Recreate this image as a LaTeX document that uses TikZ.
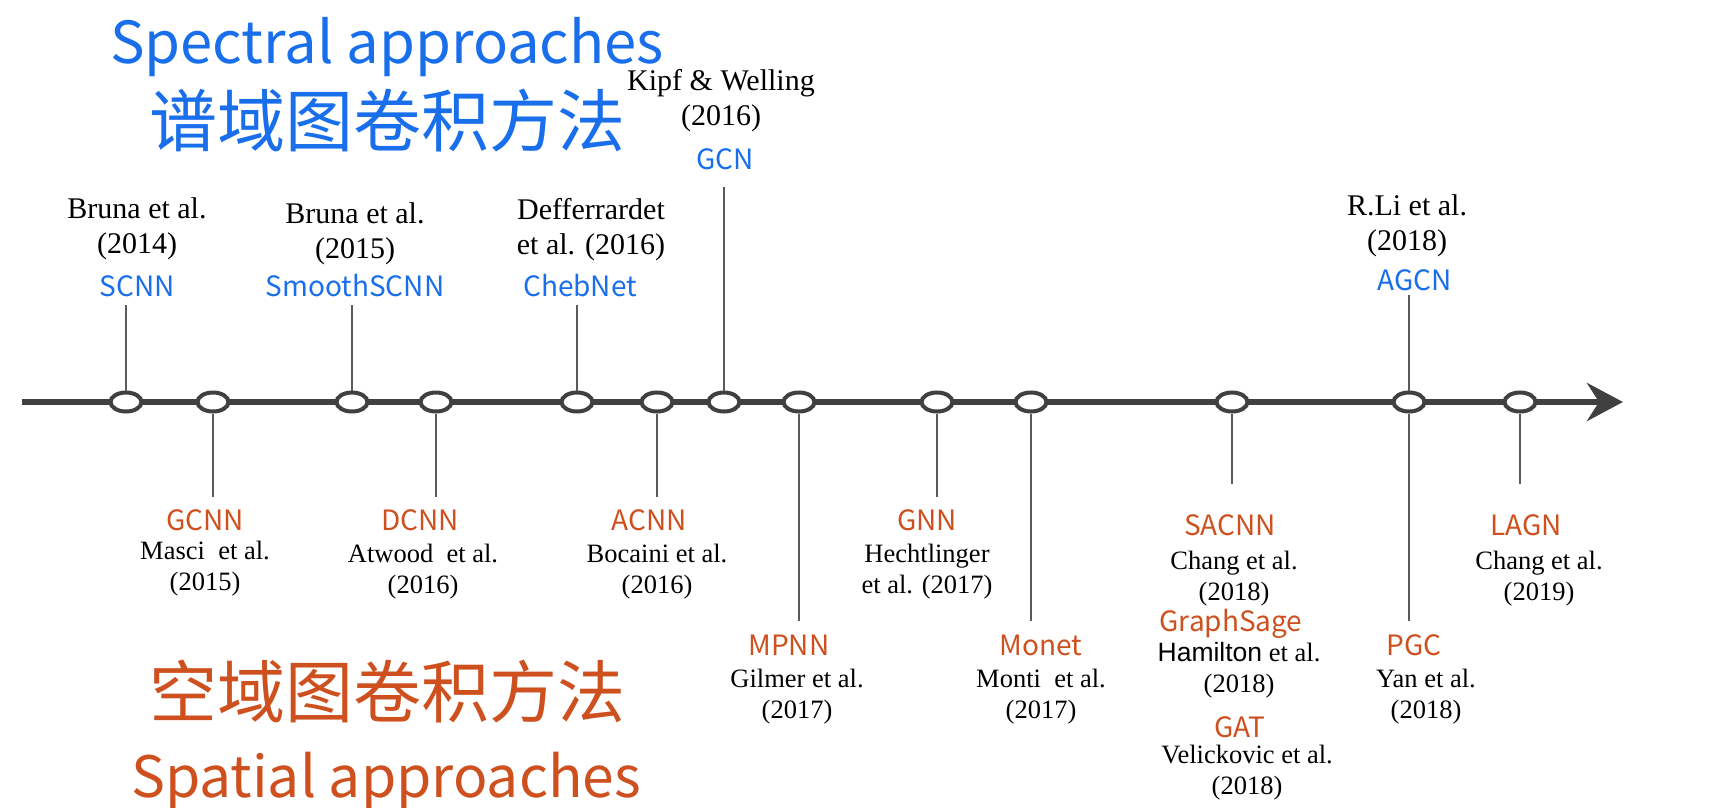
\documentclass[tikz,border=0pt]{standalone}
\usepackage{fontspec}
\setmainfont{Liberation Serif}
\newfontfamily\cjk{Noto Sans CJK SC}
\newfontfamily\arialfont{Liberation Sans}
\usetikzlibrary{arrows.meta,positioning,shapes.geometric}
\definecolor{specblue}{RGB}{25,110,235}
\definecolor{spatorange}{RGB}{205,80,30}
\definecolor{linegray}{RGB}{64,64,64}
\definecolor{stemgray}{RGB}{90,90,90}
\tikzset{
  dot/.style={ellipse,draw=linegray,fill=white,line width=4pt,minimum width=31pt,minimum height=19pt,inner sep=0pt},
  meth/.style={font=\cjk\fontsize{28}{33}\selectfont,inner sep=0pt},
  spec/.style={meth,text=specblue},
  spat/.style={meth,text=spatorange},
  upauth/.style={font=\fontsize{30}{35}\selectfont,align=center,inner sep=0pt},
  lowauth/.style={font=\fontsize{26.5}{31}\selectfont,align=center,inner sep=0pt},
  stem/.style={draw=stemgray,line width=2.5pt}
}

\begin{document}
\begin{tikzpicture}[x=1pt,y=-1pt]
  \useasboundingbox (0,0) rectangle (1723,807);

  % titles
  \node [font=\cjk\fontsize{58}{65}\selectfont,text=specblue] (spectitle) at (387,47) {Spectral approaches};
  \node [font=\cjk\fontsize{68}{75}\selectfont,text=specblue] (speccn) at (387,121) {谱域图卷积方法};
  \node [font=\cjk\fontsize{68}{75}\selectfont,text=spatorange] (spatcn) at (387,692) {空域图卷积方法};
  \node [font=\cjk\fontsize{57}{64}\selectfont,text=spatorange] (spattitle) at (386,781) {Spatial approaches};

  % time line
  \coordinate (tstart) at (22,402);
  \coordinate (tend) at (1623,402);
  \draw [line width=6pt,draw=linegray,-{Stealth[length=36pt,width=38pt,inset=12pt]}] (tstart) -- (tend);

  \node [dot] (pscnn) at (126,402) {};
  \node [dot] (pgcnn) at (213,402) {};
  \node [dot] (psmooth) at (352,402) {};
  \node [dot] (pdcnn) at (436,402) {};
  \node [dot] (pcheb) at (577,402) {};
  \node [dot] (pacnn) at (657,402) {};
  \node [dot] (pgcn) at (724,402) {};
  \node [dot] (pmpnn) at (799,402) {};
  \node [dot] (pgnn) at (937,402) {};
  \node [dot] (pmonet) at (1031,402) {};
  \node [dot] (psacnn) at (1232,402) {};
  \node [dot] (pagcn) at (1409,402) {};
  \node [dot] (plagn) at (1520,402) {};

  % stem ends
  \coordinate (sscnn) at (126,305);
  \coordinate (ssmooth) at (352,305);
  \coordinate (scheb) at (577,305);
  \coordinate (sgcn) at (724,187);
  \coordinate (sagcn) at (1409,295);
  \coordinate (sgcnn) at (213,497);
  \coordinate (sdcnn) at (436,497);
  \coordinate (sacnn) at (657,497);
  \coordinate (smpnn) at (799,621);
  \coordinate (sgnn) at (937,497);
  \coordinate (smonet) at (1031,621);
  \coordinate (ssacnn) at (1232,484);
  \coordinate (spgc) at (1409,621);
  \coordinate (slagn) at (1520,484);

  \path
  (pscnn) edge [stem] (sscnn)
  (psmooth) edge [stem] (ssmooth)
  (pcheb) edge [stem] (scheb)
  (pgcn) edge [stem] (sgcn)
  (pagcn) edge [stem] (sagcn)
  (pgcnn) edge [stem] (sgcnn)
  (pdcnn) edge [stem] (sdcnn)
  (pacnn) edge [stem] (sacnn)
  (pmpnn) edge [stem] (smpnn)
  (pgnn) edge [stem] (sgnn)
  (pmonet) edge [stem] (smonet)
  (psacnn) edge [stem] (ssacnn)
  (pagcn) edge [stem] (spgc)
  (plagn) edge [stem] (slagn)
  ;

  % spectral methods
  \node [spec] (scnn) at (137,286) {SCNN};
  \node [upauth,above=15pt of scnn] (bruna14) {Bruna et al.\\(2014)};
  \node [spec] (smooth) at (355,286) {SmoothSCNN};
  \node [upauth,above=9pt of smooth] (bruna15) {Bruna et al.\\(2015)};
  \node [spec] (cheb) at (580,286) {ChebNet};
  \node [upauth,above=13pt of cheb,xshift=11pt] (deff) {Defferrardet\\et al. (2016)};
  \node [spec] (gcn) at (725,159) {GCN};
  \node [upauth,above=16pt of gcn,xshift=-4pt] (kipf) {Kipf \& Welling\\(2016)};
  \node [spec] (agcn) at (1415,280) {AGCN};
  \node [upauth,above=12pt of agcn,xshift=-8pt] (rli) {R.Li et al.\\(2018)};

  % spatial methods
  \node [spat] (gcnn) at (205,520) {GCNN};
  \node [lowauth,below=10pt of gcnn] (masci) {Masci\ \ et al.\\(2015)};
  \node [spat] (dcnn) at (420,520) {DCNN};
  \node [lowauth,below=13pt of dcnn,xshift=3pt] (atwood) {Atwood\ \ et al.\\(2016)};
  \node [spat] (acnn) at (649,520) {ACNN};
  \node [lowauth,below=13pt of acnn,xshift=8pt] (bocaini) {Bocaini et al.\\(2016)};
  \node [spat] (mpnn) at (789,645) {MPNN};
  \node [lowauth,below=13pt of mpnn,xshift=8pt] (gilmer) {Gilmer et al.\\(2017)};
  \node [spat] (gnn) at (927,520) {GNN};
  \node [lowauth,below=13pt of gnn] (hecht) {Hechtlinger\\et al. (2017)};
  \node [spat] (monet) at (1041,645) {Monet};
  \node [lowauth,below=13pt of monet] (monti) {Monti\ \ et al.\\(2017)};
  \node [spat] (sacnn) at (1230,525) {SACNN};
  \node [lowauth,below=15pt of sacnn,xshift=4pt] (chang18) {Chang et al.\\(2018)};
  \node [spat] (sage) at (1231,624) {GraphSage};
  \node [lowauth,below=3pt of sage,xshift=8pt] (hamilton) {{\arialfont Hamilton} et al.\\(2018)};
  \node [spat] (gat) at (1240,727) {GAT};
  \node [lowauth,below=7pt of gat,xshift=7pt] (velick) {Velickovic et al.\\(2018)};
  \node [spat] (pgc) at (1414,645) {PGC};
  \node [lowauth,below=13pt of pgc,xshift=12pt] (yan) {Yan et al.\\(2018)};
  \node [spat] (lagn) at (1526,525) {LAGN};
  \node [lowauth,below=15pt of lagn,xshift=13pt] (chang19) {Chang et al.\\(2019)};
\end{tikzpicture}
\end{document}
